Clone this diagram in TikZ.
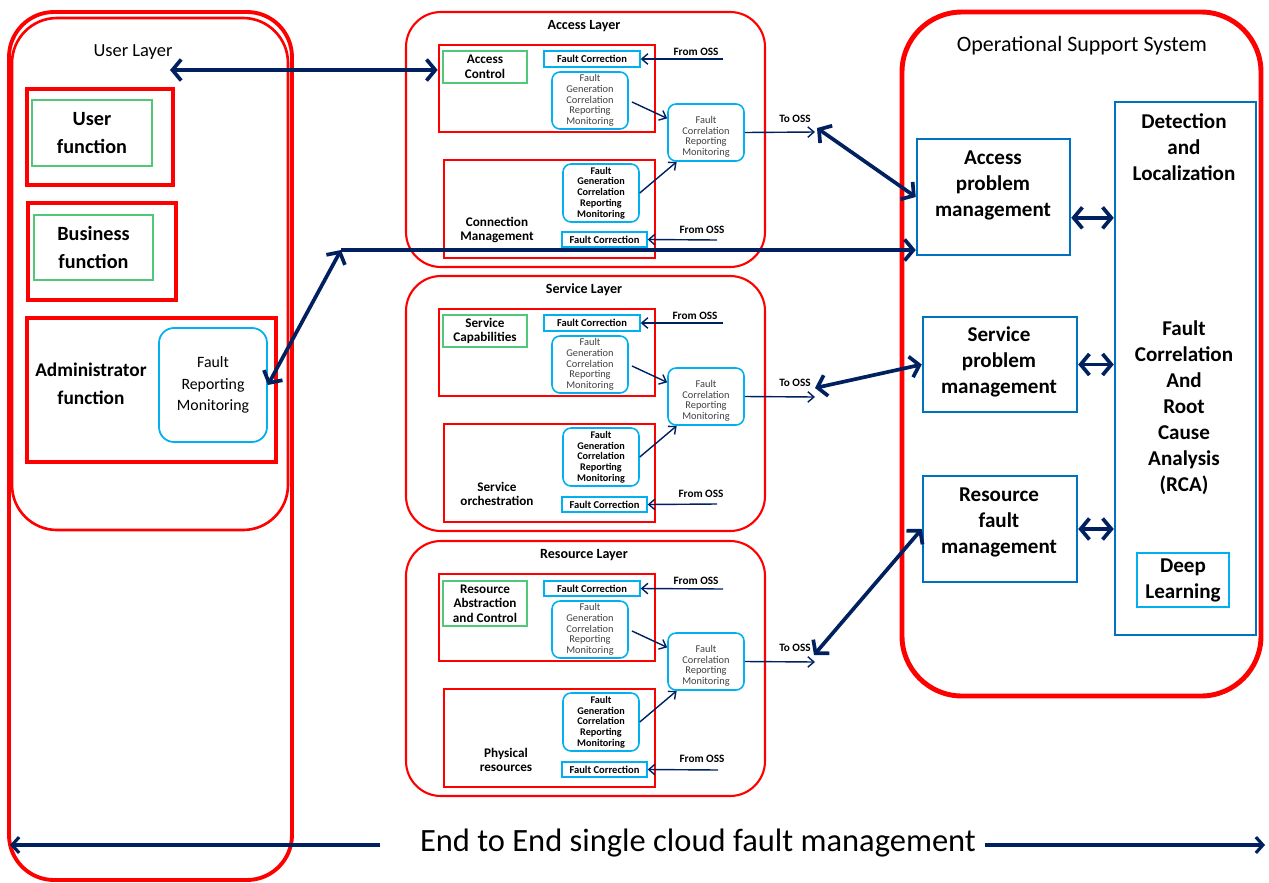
\documentclass[tikz,border=0pt]{standalone}
\usepackage{fontspec}
\setmainfont{Carlito}
\usetikzlibrary{arrows.meta,fit}

\definecolor{navy}{RGB}{0,32,96}
\definecolor{skyline}{RGB}{0,176,240}
\definecolor{ossblue}{RGB}{0,112,192}
\definecolor{funcgreen}{RGB}{80,200,120}
\definecolor{faulttext}{RGB}{64,64,64}

\tikzset{
  layerbox/.style={draw=red, line width=1.2pt, rounded corners=0.7cm, inner sep=0pt},
  redbox/.style={draw=red, line width=1.5pt, inner sep=0pt},
  funcbox/.style={draw=red, line width=2.2pt, inner sep=0pt},
  greenbox/.style={draw=funcgreen, line width=0.7pt, inner sep=0pt},
  faultbox/.style={draw=skyline, line width=0.9pt, rounded corners=0.16cm, inner sep=0pt},
  fcbox/.style={draw=skyline, line width=0.8pt, inner sep=0pt},
  ossbox/.style={draw=ossblue, line width=1.4pt, inner sep=0pt},
  gentext/.style={align=center, text=faulttext, font=\fontsize{5.9}{6.1}\selectfont},
  corrtext/.style={gentext, yshift=-2.5pt},
  genbold/.style={align=center, font=\fontsize{5.8}{6.1}\selectfont\bfseries},
  fctext/.style={font=\fontsize{6}{7}\selectfont\bfseries},
  osstext/.style={align=center, font=\fontsize{12}{14.8}\selectfont\bfseries},
  layertitle/.style={font=\fontsize{8}{9}\selectfont\bfseries},
  comptext/.style={align=center, font=\fontsize{7.5}{8.3}\selectfont\bfseries},
  functext/.style={align=center, font=\fontsize{11.5}{15.8}\selectfont\bfseries},
  osslabel/.style={font=\fontsize{6.4}{7}\selectfont\bfseries, inner sep=1pt},
  thinarrow/.style={draw=navy, line width=0.8pt, -{Straight Barb[length=3.5pt,width=6pt]}},
  thickarrow/.style={draw=navy, line width=2.1pt, {Straight Barb[length=5pt,width=12pt]}-{Straight Barb[length=5pt,width=12pt]}},
  bigtip/.style={draw=navy, line width=2.1pt, -{Straight Barb[length=5pt,width=12pt]}},
  endarrow/.style={draw=navy, line width=1.8pt, -{Straight Barb[length=4pt,width=9pt]}},
}

\begin{document}
\begin{tikzpicture}[x=0.02cm, y=-0.02cm]
\useasboundingbox (0,0) rectangle (1269,883);

% user layer
\node[layerbox, line width=2.2pt, rounded corners=0.9cm, fit={(9,12)(292,880)}] (frame) {};
\node[layerbox, line width=1.5pt, rounded corners=0.9cm, fit={(12,18)(288,530)}] (ul) {};
\node[font=\fontsize{10.5}{12}\selectfont] (ult) at (133,52) {User Layer};
\node[funcbox, fit={(27,89)(173,185)}] (uf) {};
\node[greenbox, fit={(32,100)(152,166)}, label={[functext]center:{User\\function}}] (ufg) {};
\node[funcbox, fit={(28,203)(176,300)}] (bf) {};
\node[greenbox, fit={(34,215)(153,280)}, label={[functext]center:{Business\\function}}] (bfg) {};
\node[funcbox, fit={(27,318)(276,462)}] (adm) {};
\node[align=center, font=\fontsize{11}{15.8}\selectfont\bfseries] (admt) at (91,384) {Administrator\\function};
\node[draw=skyline, line width=1pt, rounded corners=0.3cm, inner sep=0pt, fit={(159,328)(267,442)},
  label={[align=center, font=\fontsize{9}{12.3}\selectfont]center:{Fault\\Reporting\\Monitoring}}] (adf) {};

% access layer
\node[layerbox, fit={(406,12)(765,267)}] (al) {};
\node[layertitle] (alt) at (584,26) {Access Layer};
\node[redbox, fit={(439,45)(655,132)}] (a1) {};
\node[greenbox, fit={(443,51)(527,83)}, label={[comptext]center:{Access\\Control}}] (ac) {};
\node[fcbox, fit={(544,51)(640,67)}, label={[fctext]center:Fault Correction}] (afc1) {};
\node[faultbox, fit={(552,72)(628,129)}, label={[gentext]center:{Fault\\Generation\\Correlation\\Reporting\\Monitoring}}] (ag1) {};
\node[redbox, fit={(444,160)(655,258)}] (a2) {};
\node[faultbox, fit={(563,164)(639,222)}, label={[genbold]center:{Fault\\Generation\\Correlation\\Reporting\\Monitoring}}] (ag2) {};
\node[fcbox, fit={(562,232)(647,247)}, label={[fctext]center:Fault Correction}] (afc2) {};
\node[comptext] (acm) at (497,230) {Connection\\Management};
\node[faultbox, fit={(668,104)(744,161)}, label={[corrtext]center:{Fault\\Correlation\\Reporting\\Monitoring}}] (ar) {};
\node[osslabel] (afrom1) at (696,52) {From OSS};
\node[osslabel] (afrom2) at (702,230) {From OSS};
\node[osslabel] (ato) at (795,119) {To OSS};
\coordinate (ain1) at (723,59);
\coordinate (ain2) at (717,240);
\coordinate (aout) at (815,132);
\coordinate (aup) at (817,128);

% service layer
\node[layerbox, fit={(406,276)(765,531)}] (sl) {};
\node[layertitle] (slt) at (584,290) {Service Layer};
\node[redbox, fit={(439,309)(655,396)}] (s1) {};
\node[greenbox, fit={(443,315)(527,347)}, label={[comptext]center:{Service\\Capabilities}}] (sc) {};
\node[fcbox, fit={(544,315)(640,331)}, label={[fctext]center:Fault Correction}] (sfc1) {};
\node[faultbox, fit={(552,336)(628,393)}, label={[gentext]center:{Fault\\Generation\\Correlation\\Reporting\\Monitoring}}] (sg1) {};
\node[redbox, fit={(444,424)(655,522)}] (s2) {};
\node[faultbox, fit={(563,428)(639,486)}, label={[genbold]center:{Fault\\Generation\\Correlation\\Reporting\\Monitoring}}] (sg2) {};
\node[fcbox, fit={(562,497)(647,512)}, label={[fctext]center:Fault Correction}] (sfc2) {};
\node[comptext] (sorch) at (497,494) {Service\\orchestration};
\node[faultbox, fit={(668,368)(744,425)}, label={[corrtext]center:{Fault\\Correlation\\Reporting\\Monitoring}}] (sr) {};
\node[osslabel] (sfrom1) at (695,316) {From OSS};
\node[osslabel] (sfrom2) at (701,494) {From OSS};
\node[osslabel] (sto) at (795,383) {To OSS};
\coordinate (sin1) at (723,323);
\coordinate (sin2) at (717,504);
\coordinate (sout) at (815,397);
\coordinate (sup) at (815,388);

% resource layer
\node[layerbox, fit={(406,541)(765,796)}] (rl) {};
\node[layertitle] (rlt) at (584,555) {Resource Layer};
\node[redbox, fit={(439,574)(655,661)}] (r1) {};
\node[greenbox, fit={(443,581)(527,626)}, label={[comptext]center:{Resource\\Abstraction\\and Control}}] (rac) {};
\node[fcbox, fit={(544,581)(640,596)}, label={[fctext]center:Fault Correction}] (rfc1) {};
\node[faultbox, fit={(552,601)(628,658)}, label={[gentext]center:{Fault\\Generation\\Correlation\\Reporting\\Monitoring}}] (rg1) {};
\node[redbox, fit={(444,689)(655,787)}] (r2) {};
\node[faultbox, fit={(563,693)(639,751)}, label={[genbold]center:{Fault\\Generation\\Correlation\\Reporting\\Monitoring}}] (rg2) {};
\node[fcbox, fit={(562,762)(647,777)}, label={[fctext]center:Fault Correction}] (rfc2) {};
\node[comptext] (rpr) at (506,760) {Physical\\resources};
\node[faultbox, fit={(668,633)(744,690)}, label={[corrtext]center:{Fault\\Correlation\\Reporting\\Monitoring}}] (rr) {};
\node[osslabel] (rfrom1) at (696,581) {From OSS};
\node[osslabel] (rfrom2) at (702,759) {From OSS};
\node[osslabel] (rto) at (795,648) {To OSS};
\coordinate (rin1) at (723,589);
\coordinate (rin2) at (718,770);
\coordinate (rout) at (815,662);
\coordinate (rup) at (814,655);

% operational support system
\node[layerbox, line width=2.8pt, rounded corners=1.2cm, fit={(902,12)(1261,696)}] (oss) {};
\node[font=\fontsize{12.5}{14}\selectfont] (osst) at (1082,46) {Operational Support System};
\node[ossbox, fit={(917,139)(1070,255)}] (apm) {};
\node[osstext] (apmt) at (993,185) {Access\\problem\\management};
\node[ossbox, fit={(923,317)(1077,412)}] (spm) {};
\node[osstext] (spmt) at (999,362) {Service\\problem\\management};
\node[ossbox, fit={(923,476)(1077,582)}] (rfm) {};
\node[osstext] (rfmt) at (999,522) {Resource\\fault\\management};
\node[ossbox, fit={(1115,102)(1256,635)}] (det) {};
\node[osstext] (dett) at (1184,147) {Detection\\and\\Localization};
\node[osstext] (rca) at (1184,408) {Fault\\Correlation\\And\\Root\\Cause\\Analysis\\(RCA)};
\node[draw=skyline, line width=1pt, inner sep=0pt, fit={(1137,553)(1229,607)}, label={[osstext]center:{Deep\\Learning}}] (dl) {};

% thin arrows inside the layers
\draw[thinarrow] (ain1) -- (afc1.east);
\draw[thinarrow] (ain2) -- (afc2.east);
\draw[thinarrow, shorten <=2pt] (ag1.east) -- (ar.160);
\draw[thinarrow] (ag2.east) -- (ar.225);
\draw[thinarrow] (ar.east) -- (aout);
\draw[thinarrow] (sin1) -- (sfc1.east);
\draw[thinarrow] (sin2) -- (sfc2.east);
\draw[thinarrow, shorten <=2pt] (sg1.east) -- (sr.160);
\draw[thinarrow] (sg2.east) -- (sr.225);
\draw[thinarrow] (sr.east) -- (sout);
\draw[thinarrow] (rin1) -- (rfc1.east);
\draw[thinarrow] (rin2) -- (rfc2.east);
\draw[thinarrow, shorten <=2pt] (rg1.east) -- (rr.160);
\draw[thinarrow] (rg2.east) -- (rr.225);
\draw[thinarrow] (rr.east) -- (rout);

% thick arrows
\coordinate (ulend) at (170,70);
\coordinate (bend) at (341,250);
\draw[thickarrow] (ulend) -- (a1.west |- ulend);
\draw[thickarrow] (adf.east) -- (bend);
\draw[bigtip] (bend) -- (bend -| apm.west);
\draw[thickarrow] (aup) -- (apm.west);
\draw[thickarrow] (sup) -- (spm.west);
\draw[thickarrow] (rup) -- (rfm.west);
\draw[thickarrow] (apm.-15) -- (apm.-15 -| det.west);
\draw[thickarrow] (spm.east) -- (spm.east -| det.west);
\draw[thickarrow] (rfm.east) -- (rfm.east -| det.west);

% end to end
\node[font=\fontsize{18.5}{22}\selectfont] (e2e) at (698,843) {End to End single cloud fault management};
\coordinate (eleft) at (10,845);
\coordinate (eright) at (1265,845);
\coordinate (el) at (380,845);
\coordinate (er) at (985,845);
\draw[endarrow] (el) -- (eleft);
\draw[endarrow] (er) -- (eright);
\end{tikzpicture}
\end{document}
